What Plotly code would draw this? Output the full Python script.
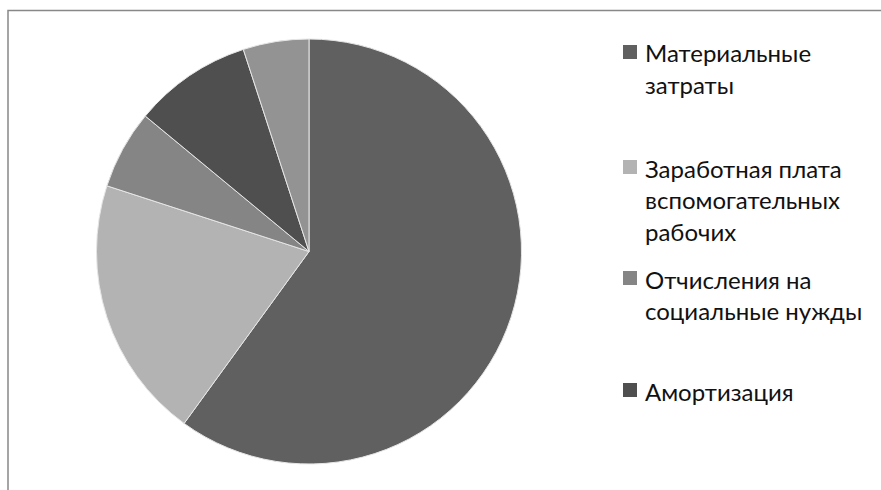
import plotly.graph_objects as go

# Cost structure (shares, %)
categories = [
    "Материальные затраты",
    "Заработная плата вспомогательных рабочих",
    "Отчисления на социальные нужды",
    "Амортизация",
    "Прочие расходы",
]
values = [60, 20, 6, 9, 5]
colors = ["#606060", "#b3b3b3", "#858585", "#4f4f4f", "#939393"]

# Wrapped legend captions (first four categories are listed)
legend_lines = [
    ["Материальные", "затраты"],
    ["Заработная плата", "вспомогательных", "рабочих"],
    ["Отчисления на", "социальные нужды"],
    ["Амортизация"],
]

W, H = 881, 490

fig = go.Figure()
fig.add_trace(go.Pie(
    labels=categories,
    values=values,
    sort=False,
    direction="clockwise",
    rotation=0,
    marker=dict(colors=colors, line=dict(color="#e6e6e6", width=1)),
    textinfo="none",
    showlegend=False,
    domain=dict(x=[96 / W, 522 / W], y=[1 - 464 / H, 1 - 39 / H]),
))

# chart-area frame
shapes = [dict(type="rect", xref="paper", yref="paper",
               x0=8 / W, x1=1.05, y0=-0.05, y1=1 - 10.5 / H,
               line=dict(color="#888888", width=1.5), fillcolor="rgba(0,0,0,0)")]
annotations = []

first_line_y = [52, 167, 278, 390]
line_gap = 31.5
font = dict(family="Lato", size=24, color="#111111")
for i, lines in enumerate(legend_lines):
    y0 = first_line_y[i]
    shapes.append(dict(type="rect", xref="paper", yref="paper",
                       x0=623 / W, x1=637 / W,
                       y0=1 - (y0 + 7) / H, y1=1 - (y0 - 7) / H,
                       line=dict(width=0), fillcolor=colors[i]))
    for j, txt in enumerate(lines):
        annotations.append(dict(xref="paper", yref="paper",
                                x=643 / W, y=1 - (y0 + 1 + j * line_gap) / H,
                                xanchor="left", yanchor="middle",
                                text=txt, showarrow=False, font=font))

fig.update_layout(
    width=W, height=H,
    margin=dict(l=0, r=0, t=0, b=0),
    paper_bgcolor="white",
    plot_bgcolor="white",
    shapes=shapes,
    annotations=annotations,
)

fig.write_html("out.html")
